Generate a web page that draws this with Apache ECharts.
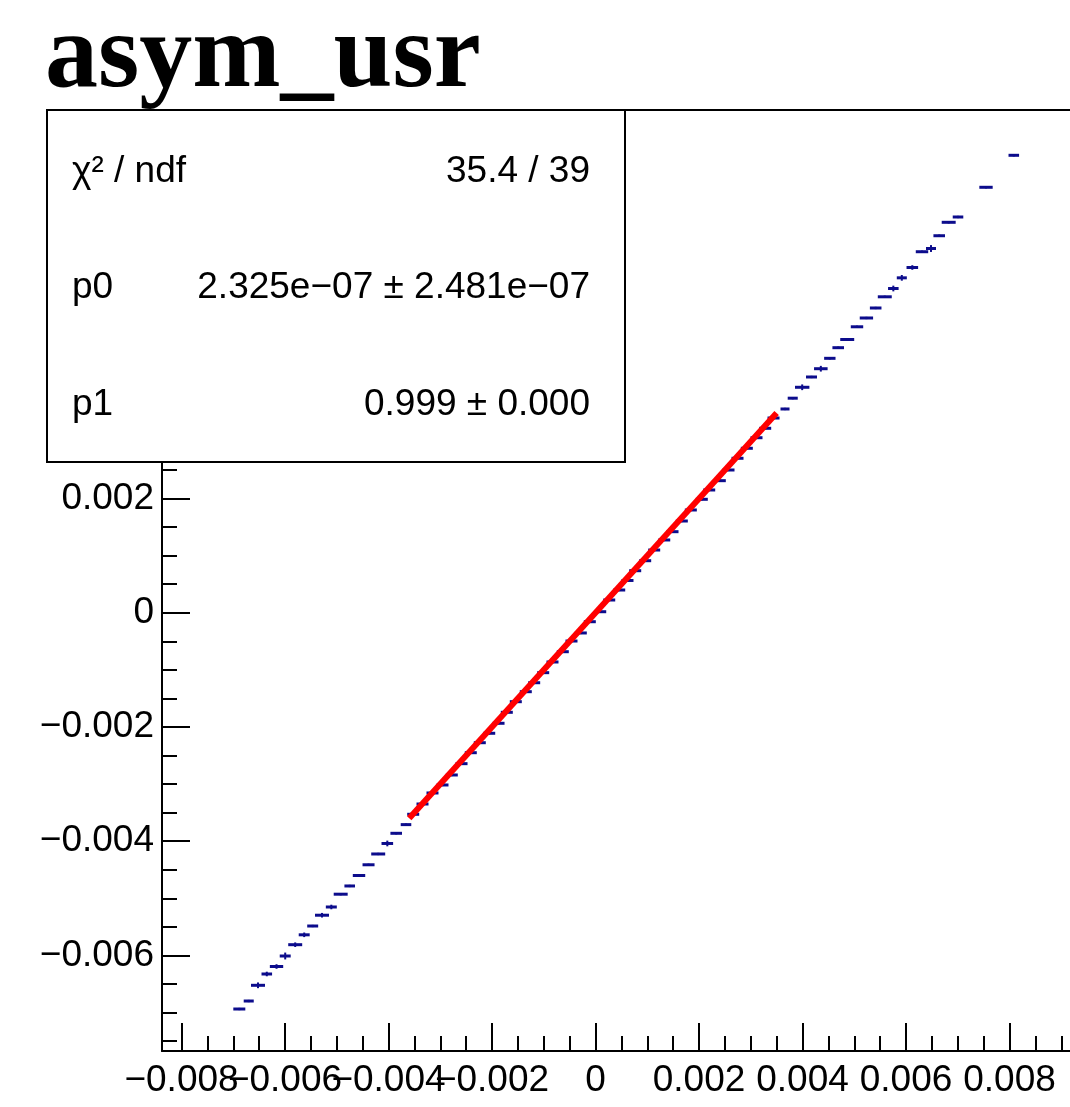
<!DOCTYPE html>
<html>
<head>
<meta charset="utf-8">
<script src="https://cdn.jsdelivr.net/npm/echarts@6/dist/echarts.min.js"></script>
<style>
html,body{margin:0;padding:0;background:#fff;}
#chart{width:1070px;height:1107px;}
</style>
</head>
<body>
<div id="chart"></div>
<script>
// ---------- data ----------
const titleText = 'asym_usr';

const xVals = [
 -0.006883,-0.006701,-0.006522,-0.006352,-0.006164,-0.005996,-0.005803,-0.005629,-0.005465,-0.005285,
 -0.005105,-0.004924,-0.004750,-0.004570,-0.004386,-0.004199,-0.004023,-0.003851,-0.003662,-0.003523,
 -0.003343,-0.003150,-0.002957,-0.002777,-0.002589,-0.002410,-0.002236,-0.002054,-0.001874,-0.001714,
 -0.001540,-0.001347,-0.001185,-0.001011,-0.000831,-0.000632,-0.000464,-0.000284,-0.000110, 0.000091,
  0.000265, 0.000458, 0.000618, 0.000767, 0.000960, 0.001134, 0.001328, 0.001488, 0.001668, 0.001842,
  0.002054, 0.002197, 0.002402, 0.002570, 0.002744, 0.002924, 0.003111, 0.003279, 0.003440, 0.003662,
  0.003811, 0.003994, 0.004174, 0.004354, 0.004528, 0.004690, 0.004864, 0.005053, 0.005235, 0.005414,
  0.005590, 0.005755, 0.005919, 0.006122, 0.006309, 0.006483, 0.006642, 0.006825, 0.007005, 0.007546,
  0.008083
];
const yVals = [
 -0.006937,-0.006797,-0.006522,-0.006324,-0.006193,-0.006009,-0.005811,-0.005638,-0.005484,-0.005295,
 -0.005151,-0.004927,-0.004783,-0.004600,-0.004412,-0.004223,-0.004039,-0.003861,-0.003709,-0.003528,
 -0.003348,-0.003155,-0.003015,-0.002840,-0.002642,-0.002450,-0.002275,-0.002110,-0.001935,-0.001743,
 -0.001557,-0.001382,-0.001225,-0.001049,-0.000862,-0.000682,-0.000495,-0.000354,-0.000157, 0.000018,
  0.000223, 0.000398, 0.000565, 0.000736, 0.000911, 0.001098, 0.001274, 0.001419, 0.001606, 0.001799,
  0.001986, 0.002149, 0.002312, 0.002499, 0.002704, 0.002879, 0.003064, 0.003229, 0.003409, 0.003567,
  0.003756, 0.003947, 0.004127, 0.004272, 0.004454, 0.004640, 0.004783, 0.005006, 0.005160, 0.005335,
  0.005531, 0.005676, 0.005863, 0.006044, 0.006320, 0.006376, 0.006600, 0.006835, 0.006928, 0.007448,
  0.008008
];
const xErrs = [
 1.16e-4,0.97e-4,1.35e-4,1.02e-4,1.29e-4,1.06e-4,1.35e-4,1.06e-4,1.06e-4,1.35e-4,
 1.06e-4,1.35e-4,1.02e-4,1.20e-4,1.16e-4,1.35e-4,1.12e-4,1.12e-4,1.02e-4,1.16e-4,
 1.16e-4,1.16e-4,1.16e-4,1.16e-4,1.16e-4,1.16e-4,1.16e-4,1.16e-4,1.16e-4,1.16e-4,
 1.16e-4,1.16e-4,1.16e-4,1.16e-4,1.16e-4,1.16e-4,1.16e-4,1.16e-4,1.16e-4,1.16e-4,
 1.16e-4,1.16e-4,1.16e-4,1.16e-4,1.16e-4,1.16e-4,1.16e-4,1.16e-4,1.16e-4,1.16e-4,
 1.16e-4,1.16e-4,1.16e-4,1.16e-4,1.16e-4,1.16e-4,1.16e-4,1.16e-4,1.16e-4,0.87e-4,
 0.97e-4,1.39e-4,1.06e-4,1.31e-4,1.10e-4,1.12e-4,1.35e-4,1.20e-4,1.29e-4,1.12e-4,
 1.35e-4,1.02e-4,0.97e-4,1.12e-4,1.20e-4,0.97e-4,1.12e-4,1.35e-4,1.02e-4,1.29e-4,
 1.02e-4
];
const yErrs = [
 2e-5,2e-5,5e-5,4e-5,4e-5,6e-5,4e-5,4e-5,2e-5,4e-5,
 4e-5,2e-5,2e-5,2e-5,2e-5,2e-5,5e-5,2e-5,2e-5,2e-5,
 2e-5,2e-5,2e-5,2e-5,2e-5,2e-5,2e-5,2e-5,2e-5,2e-5,
 2e-5,2e-5,2e-5,2e-5,2e-5,2e-5,2e-5,2e-5,2e-5,2e-5,
 2e-5,2e-5,2e-5,2e-5,2e-5,2e-5,2e-5,2e-5,2e-5,2e-5,
 2e-5,2e-5,2e-5,2e-5,2e-5,2e-5,2e-5,2e-5,2e-5,2e-5,
 2e-5,5e-5,2e-5,5e-5,2e-5,2e-5,2e-5,2e-5,2e-5,2e-5,
 2e-5,5e-5,5e-5,4e-5,2e-5,6e-5,2e-5,2e-5,2e-5,2e-5,
 2e-5
];

// fit result (pol1) and its range
const fitP0 = 2.325e-07;
const fitP1 = 0.999;
const fitRange = [-0.0036, 0.0035];

// stats box text
const statsLabels = ['\u03C7\u00B2 / ndf', 'p0', 'p1'];
const statsValues = ['35.4 / 39', '2.325e\u221207 \u00B1 2.481e\u221207', '0.999 \u00B1 0.000'];

// axes
const xRange = [-0.008377, 0.010];
const yRange = [-0.007672, 0.008801];
const xMajorTicks = [-0.008,-0.006,-0.004,-0.002,0,0.002,0.004,0.006,0.008,0.010];
const xTickLabelsA = [-0.008,-0.004,0,0.004,0.008];
const xTickLabelsB = [-0.006,-0.002,0.002,0.006];
const yMajorTicks = [-0.006,-0.004,-0.002,0,0.002,0.004,0.006,0.008];
const yTickLabels = [-0.006,-0.004,-0.002,0,0.002,0.004,0.006,0.008];
const minorStep = 0.0005;

// ---------- build ----------
function minorList(range, majors){
  const out = [];
  const start = Math.ceil(range[0]/minorStep);
  const end = Math.floor(range[1]/minorStep);
  for (let k = start; k <= end; k++){
    const v = +(k*minorStep).toFixed(6);
    if (!majors.some(m => Math.abs(m - v) < 1e-9)) out.push(v);
  }
  return out;
}
const xMinorTicks = minorList(xRange, xMajorTicks);
const yMinorTicks = minorList(yRange, yMajorTicks);

function fmt(v){
  if (Math.abs(v) < 1e-12) return '0';
  const s = Math.abs(v).toFixed(3);
  return (v < 0 ? '\u2212' : '') + s;
}

const pointData = xVals.map((x,i)=>[x, yVals[i], xErrs[i], yErrs[i]]);
const fitData = fitRange.map(x => [x, fitP0 + fitP1*x]);

const FONT = 'Liberation Sans, Arial, Helvetica, sans-serif';
const axisColor = '#000';
const ptColor = '#0c0c8c';
const LABEL_SIZE = 37;
const STATS_FONT = '37px ' + FONT;

const chart = echarts.init(document.getElementById('chart'), null, {renderer:'canvas'});

const common = {type:'value', splitLine:{show:false}, scale:false};
function labelAxis(vals){
  return Object.assign({}, common, {
    min:xRange[0], max:xRange[1], position:'bottom', offset:0,
    axisLine:{show:false, onZero:false}, axisTick:{show:false},
    axisLabel:{show:true, customValues:vals, formatter:fmt, color:'#000', fontSize:LABEL_SIZE, fontFamily:FONT,
               margin:11, hideOverlap:false, showMinLabel:true, showMaxLabel:true}
  });
}

chart.setOption({
  animation:false,
  backgroundColor:'#fff',
  grid:{left:162, top:110, width:951, bottom:56, outerBoundsMode:'none', containLabel:false},
  xAxis:[
    Object.assign({}, common, {
      min:xRange[0], max:xRange[1], position:'bottom',
      axisLine:{show:true, onZero:false, lineStyle:{color:axisColor, width:2}},
      axisTick:{show:true, inside:true, length:28, customValues:xMajorTicks, lineStyle:{color:axisColor, width:2}},
      axisLabel:{show:false}
    }),
    Object.assign({}, common, {
      min:xRange[0], max:xRange[1], position:'bottom', offset:0,
      axisLine:{show:false, onZero:false},
      axisTick:{show:true, inside:true, length:15, customValues:xMinorTicks, lineStyle:{color:axisColor, width:2}},
      axisLabel:{show:false}
    }),
    Object.assign({}, common, {
      min:xRange[0], max:xRange[1], position:'top',
      axisLine:{show:true, onZero:false, lineStyle:{color:axisColor, width:2}},
      axisTick:{show:false}, axisLabel:{show:false}
    }),
    labelAxis(xTickLabelsA),
    labelAxis(xTickLabelsB)
  ],
  yAxis:[
    Object.assign({}, common, {
      min:yRange[0], max:yRange[1], position:'left',
      axisLine:{show:true, onZero:false, lineStyle:{color:axisColor, width:2}},
      axisTick:{show:true, inside:true, length:28, customValues:yMajorTicks, lineStyle:{color:axisColor, width:2}},
      axisLabel:{show:true, customValues:yTickLabels, formatter:fmt, color:'#000', fontSize:LABEL_SIZE, fontFamily:FONT,
                 margin:8, hideOverlap:false, showMinLabel:true, showMaxLabel:true}
    }),
    Object.assign({}, common, {
      min:yRange[0], max:yRange[1], position:'left', offset:0,
      axisLine:{show:false, onZero:false},
      axisTick:{show:true, inside:true, length:15, customValues:yMinorTicks, lineStyle:{color:axisColor, width:2}},
      axisLabel:{show:false}
    })
  ],
  series:[
    {
      type:'custom', name:'points', xAxisIndex:0, yAxisIndex:0, z:2,
      data:pointData,
      encode:{x:0, y:1},
      clip:true,
      renderItem:function(params, api){
        const x = api.value(0), y = api.value(1), ex = api.value(2), ey = api.value(3);
        const pL = api.coord([x-ex, y]), pR = api.coord([x+ex, y]);
        const pT = api.coord([x, y+ey]), pB = api.coord([x, y-ey]);
        return {type:'group', children:[
          {type:'line', shape:{x1:pL[0], y1:pL[1], x2:pR[0], y2:pR[1]}, style:{stroke:ptColor, lineWidth:3}},
          {type:'line', shape:{x1:pT[0], y1:pT[1], x2:pB[0], y2:pB[1]}, style:{stroke:ptColor, lineWidth:2}}
        ]};
      }
    },
    {
      type:'line', name:'fit', xAxisIndex:0, yAxisIndex:0, z:3,
      data:fitData, symbol:'none', showSymbol:false,
      lineStyle:{color:'#ff0000', width:6}
    }
  ],
  graphic:[
    {type:'text', z:100, left:45, top:6,
     style:{text:titleText, font:'bold 106px "Liberation Serif", "Times New Roman", serif', fill:'#000'}},
    {type:'rect', z:100, shape:{x:47, y:110, width:578, height:352},
     style:{fill:'#fff', stroke:'#000', lineWidth:2}},
    {type:'text', z:101, x:72, y:172, style:{text:statsLabels[0], font:STATS_FONT, fill:'#000', verticalAlign:'middle', align:'left'}},
    {type:'text', z:101, x:72, y:288, style:{text:statsLabels[1], font:STATS_FONT, fill:'#000', verticalAlign:'middle', align:'left'}},
    {type:'text', z:101, x:72, y:405, style:{text:statsLabels[2], font:STATS_FONT, fill:'#000', verticalAlign:'middle', align:'left'}},
    {type:'text', z:101, x:590, y:172, style:{text:statsValues[0], font:STATS_FONT, fill:'#000', verticalAlign:'middle', align:'right'}},
    {type:'text', z:101, x:590, y:288, style:{text:statsValues[1], font:STATS_FONT, fill:'#000', verticalAlign:'middle', align:'right'}},
    {type:'text', z:101, x:590, y:405, style:{text:statsValues[2], font:STATS_FONT, fill:'#000', verticalAlign:'middle', align:'right'}}
  ]
});
</script>
</body>
</html>
